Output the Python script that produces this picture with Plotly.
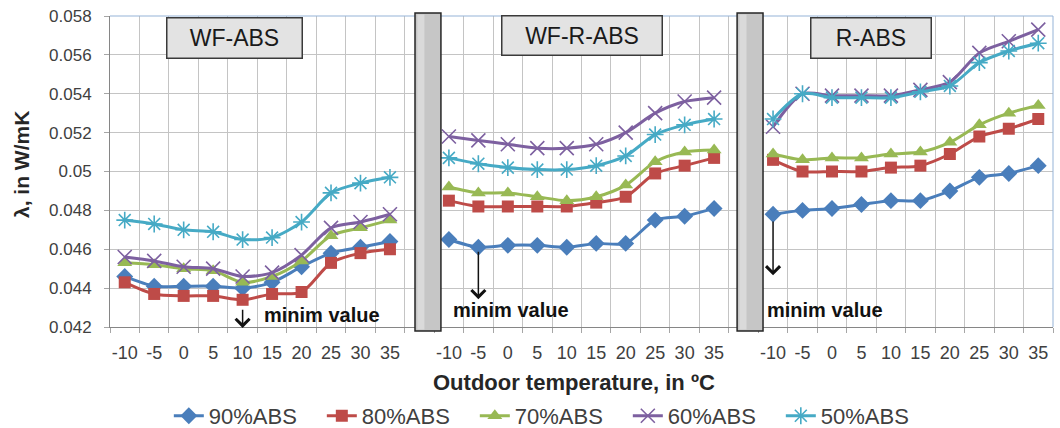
import plotly.graph_objects as go

# ---------------- data ----------------
temps = [-10, -5, 0, 5, 10, 15, 20, 25, 30, 35]
panels = ["WF-ABS", "WF-R-ABS", "R-ABS"]
series_names = ["90%ABS", "80%ABS", "70%ABS", "60%ABS", "50%ABS"]

wf_abs_90 = [0.0446, 0.0441, 0.0441, 0.0441, 0.0440, 0.0443, 0.0451, 0.0458, 0.0461, 0.0464]
wf_abs_80 = [0.0443, 0.0437, 0.0436, 0.0436, 0.0434, 0.0437, 0.0438, 0.0453, 0.0458, 0.0460]
wf_abs_70 = [0.0453, 0.0452, 0.0450, 0.0449, 0.0443, 0.0446, 0.0454, 0.0467, 0.0471, 0.0475]
wf_abs_60 = [0.0456, 0.0454, 0.0451, 0.0450, 0.0446, 0.0448, 0.0457, 0.0471, 0.0474, 0.0478]
wf_abs_50 = [0.0475, 0.0473, 0.0470, 0.0469, 0.0465, 0.0466, 0.0474, 0.0489, 0.0494, 0.0497]

wfr_abs_90 = [0.0465, 0.0461, 0.0462, 0.0462, 0.0461, 0.0463, 0.0463, 0.0475, 0.0477, 0.0481]
wfr_abs_80 = [0.0485, 0.0482, 0.0482, 0.0482, 0.0482, 0.0484, 0.0487, 0.0499, 0.0503, 0.0507]
wfr_abs_70 = [0.0492, 0.0489, 0.0489, 0.0487, 0.0485, 0.0487, 0.0493, 0.0505, 0.0510, 0.0511]
wfr_abs_60 = [0.0518, 0.0516, 0.0514, 0.0512, 0.0512, 0.0514, 0.0520, 0.0530, 0.0536, 0.0538]
wfr_abs_50 = [0.0507, 0.0504, 0.0502, 0.0501, 0.0501, 0.0503, 0.0508, 0.0519, 0.0524, 0.0527]

r_abs_90 = [0.0478, 0.0480, 0.0481, 0.0483, 0.0485, 0.0485, 0.0490, 0.0497, 0.0499, 0.0503]
r_abs_80 = [0.0506, 0.0500, 0.0500, 0.0500, 0.0502, 0.0503, 0.0509, 0.0518, 0.0522, 0.0527]
r_abs_70 = [0.0509, 0.0506, 0.0507, 0.0507, 0.0509, 0.0510, 0.0515, 0.0524, 0.0530, 0.0534]
r_abs_60 = [0.0523, 0.0540, 0.0539, 0.0539, 0.0539, 0.0542, 0.0546, 0.0561, 0.0567, 0.0573]
r_abs_50 = [0.0527, 0.0540, 0.0538, 0.0538, 0.0538, 0.0541, 0.0544, 0.0556, 0.0562, 0.0566]

y_ticks = [0.042, 0.044, 0.046, 0.048, 0.050, 0.052, 0.054, 0.056, 0.058]
min_temps = [10, -5, -10]   # temperature of the marked minimum in each panel

panel_data = [
    [wf_abs_90, wf_abs_80, wf_abs_70, wf_abs_60, wf_abs_50],
    [wfr_abs_90, wfr_abs_80, wfr_abs_70, wfr_abs_60, wfr_abs_50],
    [r_abs_90, r_abs_80, r_abs_70, r_abs_60, r_abs_50],
]

# ---------------- styles ----------------
colors = ["#4A7EBB", "#BE4B48", "#98B954", "#7D60A0", "#46AAC5"]
symbols = ["diamond", "square", "triangle-up", "x-thin", "asterisk"]
msizes = [13, 12, 13, 14, 14]
FONT = "Arial, Liberation Sans, sans-serif"

n = len(temps)
slot = n + 1  # one empty category between panels


def xpos(p, i):
    return p * slot + i


fig = go.Figure()

for s, name in enumerate(series_names):
    xs, ys = [], []
    for p in range(len(panels)):
        for i in range(n):
            xs.append(xpos(p, i))
            ys.append(panel_data[p][s][i])
        if p < len(panels) - 1:
            xs.append(xpos(p, n))
            ys.append(None)
    thin = symbols[s] in ("x-thin", "asterisk")
    fig.add_trace(go.Scatter(
        x=xs, y=ys, name=name, mode="lines+markers",
        connectgaps=False,
        line=dict(color=colors[s], width=3, shape="spline", smoothing=0.8),
        marker=dict(symbol=symbols[s], size=msizes[s], color=colors[s],
                    line=dict(color=colors[s], width=1.6 if thin else 0)),
    ))

tickvals = [xpos(p, i) for p in range(len(panels)) for i in range(n)]
ticktext = [str(t) for p in range(len(panels)) for t in temps]
total_slots = len(panels) * slot - 1
boundaries = [k - 0.5 for k in range(total_slots + 1)]

fig.update_xaxes(
    range=[-0.5, total_slots - 0.5],
    tickmode="array", tickvals=tickvals, ticktext=ticktext,
    ticks="", showgrid=False, zeroline=False,
    showline=True, linecolor="#868686", linewidth=1,
    tickfont=dict(size=18, color="#404040", family=FONT),
    ticklabelstandoff=9,
    minor=dict(tickvals=boundaries, ticks="outside", ticklen=5,
               tickcolor="#a6a6a6", showgrid=True, gridcolor="#c4c4c4", gridwidth=1),
)
fig.update_yaxes(
    range=[y_ticks[0], y_ticks[-1]],
    tickmode="array", tickvals=y_ticks,
    ticktext=[("%.3f" % v).rstrip("0") for v in y_ticks],
    ticks="outside", ticklen=5, tickcolor="#a6a6a6",
    showgrid=True, gridcolor="#c4c4c4", gridwidth=1, zeroline=False,
    showline=True, linecolor="#868686", linewidth=1,
    tickfont=dict(size=17, color="#404040", family=FONT),
    ticklabelstandoff=9,
)

shapes = []
# light-blue plot border on top and right
shapes.append(dict(type="line", xref="paper", yref="paper", x0=0, x1=1, y0=1, y1=1,
                   line=dict(color="#95B3D7", width=1)))
shapes.append(dict(type="line", xref="paper", yref="paper", x0=1, x1=1, y0=0, y1=1,
                   line=dict(color="#95B3D7", width=1)))
# grey separator bars in the empty slots
sep_offsets = [(-0.15, 0.73), (-0.22, 0.66)]
for p in range(len(panels) - 1):
    g = xpos(p, n)
    a, b = sep_offsets[p]
    shapes.append(dict(type="rect", xref="x", yref="paper", x0=g + a, x1=g + b,
                       y0=-0.013, y1=1.01, layer="above",
                       fillcolor="#C6C6C6", line=dict(color="#262626", width=1.5)))
    shapes.append(dict(type="rect", xref="x", yref="paper", x0=g + a + 0.08, x1=g + a + 0.32,
                       y0=-0.008, y1=1.005, layer="above",
                       fillcolor="#DADADA", line=dict(width=0)))

annotations = []
# panel labels
label_offsets = [(-0.76, 0.05689, 132, 37), (0.03, 0.05702, 157, 36), (-1.16, 0.05689, 117, 37)]
for p, lab in enumerate(panels):
    dx, yy, w, h = label_offsets[p]
    annotations.append(dict(
        x=xpos(p, (n - 1) / 2) + dx, y=yy, xref="x", yref="y", text=lab, showarrow=False,
        font=dict(size=23, color="#1a1a1a", family=FONT),
        bgcolor="#E3E3E3", bordercolor="#3a3a3a", borderwidth=1.5, borderpad=1,
        width=w, height=h, xanchor="center", yanchor="middle",
    ))

# "minim value" arrows and texts
arrow_ys = [(0.04296, 0.04195), (0.04595, 0.04343), (0.04750, 0.04466)]
text_pos = [(2.68, 0.04260), (1.12, 0.04286), (1.76, 0.04286)]
for p in range(len(panels)):
    xi = xpos(p, temps.index(min_temps[p]))
    tail, head = arrow_ys[p]
    annotations.append(dict(
        x=xi, y=head, ax=xi, ay=tail, xref="x", yref="y", axref="x", ayref="y",
        text="", showarrow=True, arrowhead=4, arrowsize=1.8, arrowwidth=1.5,
        arrowcolor="#111111",
    ))
    tx, ty = text_pos[p]
    annotations.append(dict(
        x=xi + tx, y=ty, xref="x", yref="y", text="<b>minim value</b>", showarrow=False,
        font=dict(size=20, color="#111111", family=FONT), xanchor="center", yanchor="middle",
    ))

# axis titles
annotations.append(dict(
    x=-0.0933, y=0.521, xref="paper", yref="paper", text="<b>λ, in W/mK</b>",
    textangle=-90, showarrow=False, font=dict(size=21, color="#262626", family=FONT),
    xanchor="center", yanchor="middle",
))
annotations.append(dict(
    x=0.492, y=-0.180, xref="paper", yref="paper", text="<b>Outdoor temperature, in ºC</b>",
    showarrow=False, font=dict(size=22, color="#262626", family=FONT),
    xanchor="center", yanchor="middle",
))

fig.update_layout(
    width=1060, height=428,
    margin=dict(l=110, r=7, t=16, b=101, autoexpand=False),
    plot_bgcolor="white", paper_bgcolor="white",
    font=dict(family=FONT, color="#404040"),
    shapes=shapes, annotations=annotations,
    showlegend=True,
    legend=dict(orientation="h", x=0.468, xanchor="center", y=-0.286, yanchor="middle",
                font=dict(size=22, color="#404040", family=FONT),
                bgcolor="rgba(0,0,0,0)", itemwidth=30,
                entrywidth=108, entrywidthmode="pixels"),
)

fig.write_html("out.html", config={"displayModeBar": False},
               post_script="document.body.style.margin='0';")
